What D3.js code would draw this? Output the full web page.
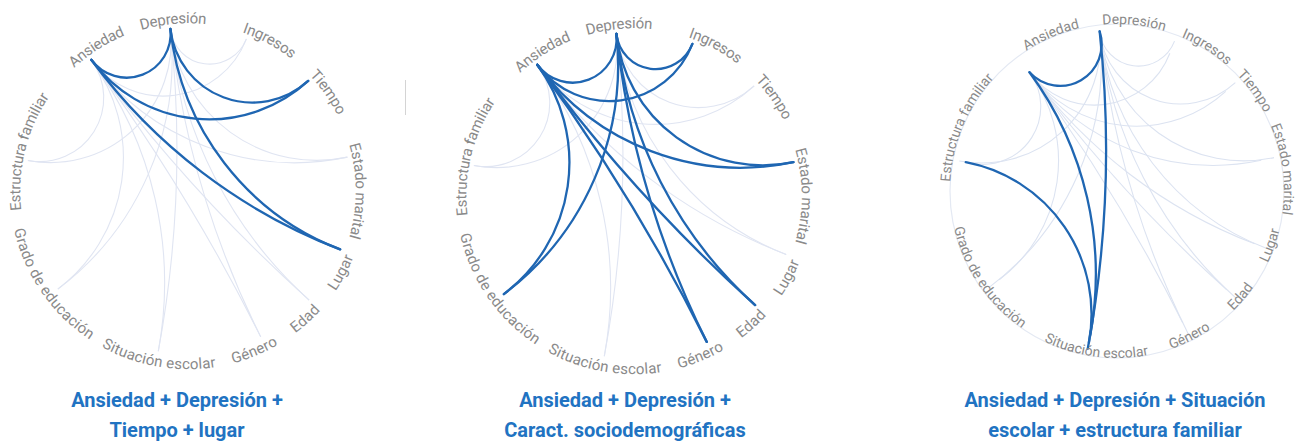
<!DOCTYPE html>
<html><head><meta charset="utf-8">
<script src="https://cdn.jsdelivr.net/npm/d3@7"></script>
<style>body{margin:0;background:#fff;overflow:hidden}</style>
</head><body>
<svg id="chart" width="1297" height="444"></svg>
<script>
// ---------- data ----------
const variables = ["Depresión","Ingresos","Tiempo","Estado marital","Lugar","Edad","Género","Situación escolar","Grado de educación","Estructura familiar","Ansiedad"];
// angular share of the circle taken by each variable (degrees)
const nodeArc = [27.2,26.5,30.5,33,21,21.5,37,42.5,47.8,42.8,30.2];
const outcomes = ["Ansiedad","Depresión"];
const predictors = ["Ingresos","Tiempo","Estado marital","Lugar","Edad","Género","Situación escolar","Grado de educación","Estructura familiar"];
const linksTiempoLugar = [["Ansiedad","Depresión"],["Depresión","Tiempo"],["Ansiedad","Tiempo"],["Ansiedad","Lugar"],["Depresión","Lugar"]];
const linksSocio = [["Ansiedad","Depresión"],["Depresión","Ingresos"],["Ansiedad","Ingresos"],["Depresión","Estado marital"],["Ansiedad","Estado marital"],["Ansiedad","Grado de educación"],["Depresión","Grado de educación"],["Ansiedad","Género"],["Depresión","Género"],["Ansiedad","Edad"],["Depresión","Edad"]];
const linksEscolar = [["Ansiedad","Depresión"],["Ansiedad","Situación escolar"],["Depresión","Situación escolar"],["Estructura familiar","Situación escolar"]];
const titles = [["Ansiedad + Depresión +","Tiempo + lugar"],["Ansiedad + Depresión +","Caract. sociodemográficas"],["Ansiedad + Depresión + Situación","escolar + estructura familiar"]];

// ---------- layout ----------
const svg = d3.select("#chart");
const rad = Math.PI/180;
const pie = d3.pie().sort(null).value(d => d).startAngle(-6.2*rad).endAngle((360-6.2)*rad);
const slices = pie(nodeArc);
const angle = d3.scaleOrdinal().domain(variables).range(slices.map(s => s.startAngle));

// label angular nudges (degrees, layout only)
const nudgeA = {"Depresión":1.2,"Ingresos":7.5,"Tiempo":7.3,"Estado marital":12,"Lugar":7,"Edad":5.5,"Género":4,"Situación escolar":-0.5,"Grado de educación":2.5,"Estructura familiar":3,"Ansiedad":4};
const nudgeB = {"Depresión":12,"Ingresos":11,"Tiempo":6.5,"Estado marital":4.5,"Lugar":-1.5,"Edad":-1.5,"Género":0,"Situación escolar":-3,"Grado de educación":3,"Estructura familiar":12,"Ansiedad":13.5};

const backgroundLinks = [["Ansiedad","Depresión"]];
predictors.forEach(p => outcomes.forEach(o => backgroundLinks.push([o,p])));

const panels = [
  {cx:188, cy:191, r:163, rl:173, dy:"0.35em", split:0, nudge:nudgeA, font:15, tx:177, circle:false, links:linksTiempoLugar, title:titles[0], faint:"#e0e5f2"},
  {cx:634, cy:196, r:163, rl:173, dy:"0.35em", split:0, nudge:nudgeA, font:15, tx:625, circle:false, links:linksSocio, title:titles[1], faint:"#e0e5f2"},
  {cx:1117, cy:191, r:154, rl:167, dy:"0em", split:6.5, nudge:nudgeB, font:14, tx:1115, circle:true, links:linksEscolar, title:titles[2], faint:"#dce3f1"}
];

const BLUE = "#1f66b2";
const TITLE = "#2173c2";

function offs(name){ return name==="Depresión" ? 1 : name==="Ansiedad" ? -1 : 0; }

panels.forEach((P, pi) => {
  const g = svg.append("g");
  const pt = (a, r) => [P.cx + r*Math.sin(a), P.cy - r*Math.cos(a)];
  const endR = (node, partner) => P.r + P.split*(outcomes.includes(node) ? offs(node) : offs(partner));

  if (P.circle) {
    g.append("circle").attr("cx",P.cx).attr("cy",P.cy).attr("r",P.rl)
      .attr("fill","none").attr("stroke","#e4e9f3").attr("stroke-width",1.2);
  }

  function linkPath(l) {
    let a = angle(l[0]), b = angle(l[1]);
    let ra = endR(l[0], l[1]), rb = endR(l[1], l[0]);
    let d = ((b - a) % (2*Math.PI) + 2*Math.PI) % (2*Math.PI);
    if (d > Math.PI) { [a,b] = [b,a]; [ra,rb] = [rb,ra]; d = 2*Math.PI - d; }
    const A = pt(a, ra), B = pt(b, rb);
    const rr = (ra + rb)/2;
    if (d > Math.PI - 0.02) return `M${A}L${B}`;
    const R = rr*Math.tan(d/2);
    return `M${A}A${R},${R} 0 0 0 ${B}`;
  }

  const key = l => [l[0],l[1]].sort().join("|");
  const hi = new Set(P.links.map(key));

  g.append("g").selectAll("path").data(backgroundLinks.filter(l => !hi.has(key(l))))
    .join("path").attr("d", linkPath).attr("fill","none")
    .attr("stroke", P.faint).attr("stroke-width", 1.1);

  g.append("g").selectAll("path").data(P.links)
    .join("path").attr("d", linkPath).attr("fill","none")
    .attr("stroke", BLUE).attr("stroke-width", 2.3).attr("stroke-linecap","round");

  // labels along the circle
  const lab = g.append("g");
  variables.forEach((v, i) => {
    const base = angle(v)/rad;
    const bn = (base + 360) % 360;
    const flip = bn > 90 && bn < 265;
    const L = (bn + P.nudge[v]) * rad;
    const id = `lp${pi}_${i}`;
    const p0 = pt(L - Math.PI/2, P.rl), p1 = pt(L + Math.PI/2, P.rl);
    const d = flip ? `M${p1}A${P.rl},${P.rl} 0 0 0 ${p0}` : `M${p0}A${P.rl},${P.rl} 0 0 1 ${p1}`;
    lab.append("path").attr("id", id).attr("d", d).attr("fill","none");
    lab.append("text").attr("font-family","Roboto, sans-serif").attr("font-size", P.font)
      .attr("fill","#8a8a8a").attr("dy", P.dy)
      .append("textPath").attr("href","#"+id).attr("startOffset","50%")
      .attr("text-anchor","middle").text(v);
  });

  // title
  const t = g.append("text").attr("font-family","Roboto, sans-serif").attr("font-weight","bold")
    .attr("font-size",20).attr("fill",TITLE).attr("text-anchor","middle");
  P.title.forEach((line, j) => t.append("tspan").attr("x",P.tx).attr("y", 407 + j*30).text(line));
});

// small separator mark
svg.append("line").attr("x1",405.5).attr("x2",405.5).attr("y1",80).attr("y2",115)
  .attr("stroke","#d4d4d4").attr("stroke-width",1);
</script>
</body></html>
